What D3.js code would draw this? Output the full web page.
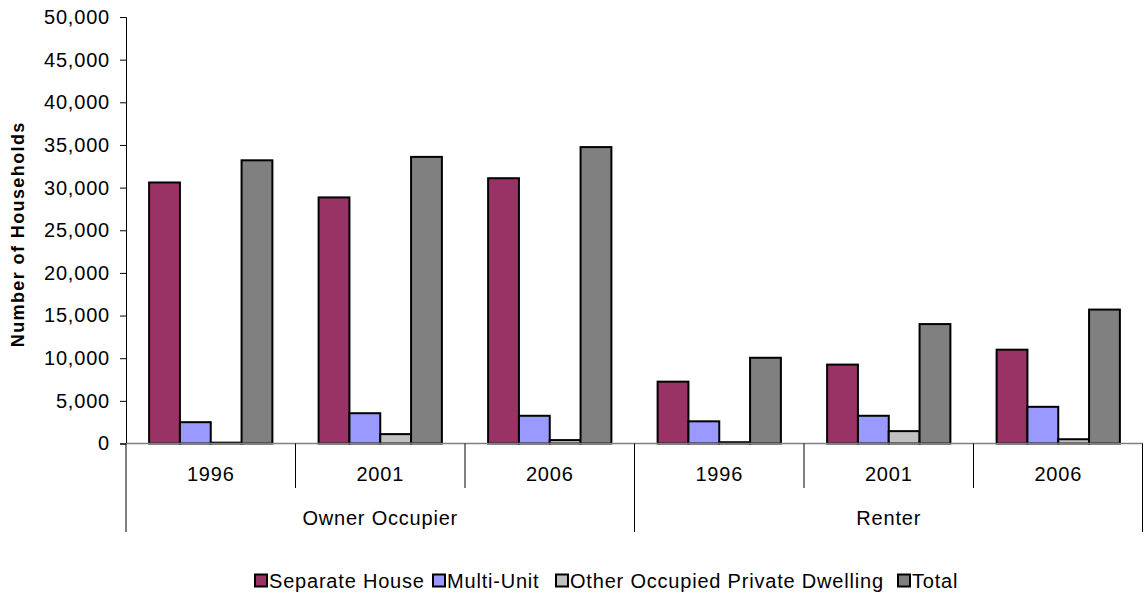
<!DOCTYPE html>
<html>
<head>
<meta charset="utf-8">
<script src="https://cdn.jsdelivr.net/npm/d3@7"></script>
<style>
  html, body { margin: 0; padding: 0; background: #fff; }
  svg { display: block; font-family: "Liberation Sans", Arial, sans-serif; }
</style>
</head>
<body>
<svg id="chart" width="1146" height="598"></svg>
<script>
// ---- data ----
const groups = ["Owner Occupier", "Renter"];
const years = ["1996", "2001", "2006"];
const seriesNames = ["Separate House", "Multi-Unit", "Other Occupied Private Dwelling", "Total"];
const seriesColors = ["#993366", "#9999ff", "#c0c0c0", "#808080"];
// values per category in order: Owner 1996, 2001, 2006, Renter 1996, 2001, 2006
const separateHouse = [30600, 28850, 31100, 7250, 9250, 11000];
const multiUnit     = [2500, 3550, 3250, 2600, 3250, 4300];
const otherDwelling = [100, 1100, 400, 150, 1450, 500];
const total         = [33200, 33600, 34750, 10050, 14000, 15700];
const yTicks = [0, 5000, 10000, 15000, 20000, 25000, 30000, 35000, 40000, 45000, 50000];
const yTitle = "Number of Households";

const seriesValues = [separateHouse, multiUnit, otherDwelling, total];
const categories = [];
groups.forEach(g => years.forEach(yr => categories.push(g + "|" + yr)));

// ---- layout ----
const svg = d3.select("#chart");
const plotLeft = 126, plotRight = 1143, plotTop = 17, zeroY = 443.5;
const FS = 20, LS = "0.8px";

const x = d3.scaleBand().domain(categories).range([plotLeft, plotRight]).padding(0);
const xSeries = d3.scaleBand().domain(seriesNames).range([0, x.bandwidth()])
  .paddingInner(0).paddingOuter(0.75);
const y = d3.scaleLinear().domain([0, 50000]).range([zeroY, plotTop]);
const fmt = d3.format(",");

// y axis
const yAxis = svg.append("g").attr("transform", `translate(${plotLeft},0)`)
  .call(d3.axisLeft(y).tickValues(yTicks).tickFormat(fmt).tickSizeOuter(0).tickSize(6).tickPadding(10));
yAxis.select(".domain").attr("stroke", "#000").attr("stroke-width", 1);
yAxis.selectAll(".tick line").attr("stroke", "#000");
yAxis.selectAll(".tick text").attr("font-size", FS).attr("letter-spacing", LS)
  .attr("fill", "#000").attr("font-family", "'Liberation Sans', Arial, sans-serif");

// y title
svg.append("text")
  .attr("transform", `translate(24,${(plotTop + zeroY) / 2 + 4}) rotate(-90)`)
  .attr("text-anchor", "middle")
  .attr("font-size", 18).attr("font-weight", "bold").attr("letter-spacing", "1.4px")
  .text(yTitle);

// bars
seriesNames.forEach((s, si) => {
  svg.append("g").selectAll("rect")
    .data(categories.map((c, i) => ({ c, v: seriesValues[si][i] })))
    .join("rect")
    .attr("x", d => x(d.c) + xSeries(s))
    .attr("width", xSeries.bandwidth())
    .attr("y", d => y(d.v))
    .attr("height", d => y(0) - y(d.v))
    .attr("fill", seriesColors[si])
    .attr("stroke", "#000")
    .attr("stroke-width", 2);
});

// category axis baseline
svg.append("line").attr("x1", plotLeft).attr("x2", plotRight).attr("y1", zeroY).attr("y2", zeroY)
  .attr("stroke", "#808080").attr("stroke-width", 1.5);

// year separators (short) and group separators (long)
const gCat = svg.append("g");
categories.forEach((c, i) => {
  const xe = x(c);
  const isGroupEdge = (i % years.length === 0);
  gCat.append("line").attr("x1", xe).attr("x2", xe)
    .attr("y1", zeroY).attr("y2", isGroupEdge ? 532 : 488)
    .attr("stroke", "#000").attr("stroke-width", 1);
});
gCat.append("line").attr("x1", plotRight - 0.5).attr("x2", plotRight - 0.5)
  .attr("y1", zeroY).attr("y2", 532).attr("stroke", "#000").attr("stroke-width", 1);

// year labels
gCat.selectAll("text.year").data(categories).join("text")
  .attr("class", "year")
  .attr("x", d => x(d) + x.bandwidth() / 2)
  .attr("y", 481)
  .attr("text-anchor", "middle").attr("font-size", FS).attr("letter-spacing", LS)
  .text(d => d.split("|")[1]);

// group labels
gCat.selectAll("text.group").data(groups).join("text")
  .attr("class", "group")
  .attr("x", g => (x(g + "|" + years[0]) + x(g + "|" + years[years.length - 1]) + x.bandwidth()) / 2)
  .attr("y", 525)
  .attr("text-anchor", "middle").attr("font-size", FS).attr("letter-spacing", LS)
  .text(g => g);

// legend
const legendX = [254, 432, 555, 897];
const legend = svg.append("g");
seriesNames.forEach((s, i) => {
  const g = legend.append("g").attr("transform", `translate(${legendX[i]},574.5)`);
  g.append("rect").attr("x", 1).attr("y", 0).attr("width", 12).attr("height", 12)
    .attr("fill", seriesColors[i]).attr("stroke", "#000").attr("stroke-width", 2);
  g.append("text").attr("x", 15).attr("y", 13.5)
    .attr("font-size", FS).attr("letter-spacing", LS).text(s);
});
</script>
</body>
</html>
